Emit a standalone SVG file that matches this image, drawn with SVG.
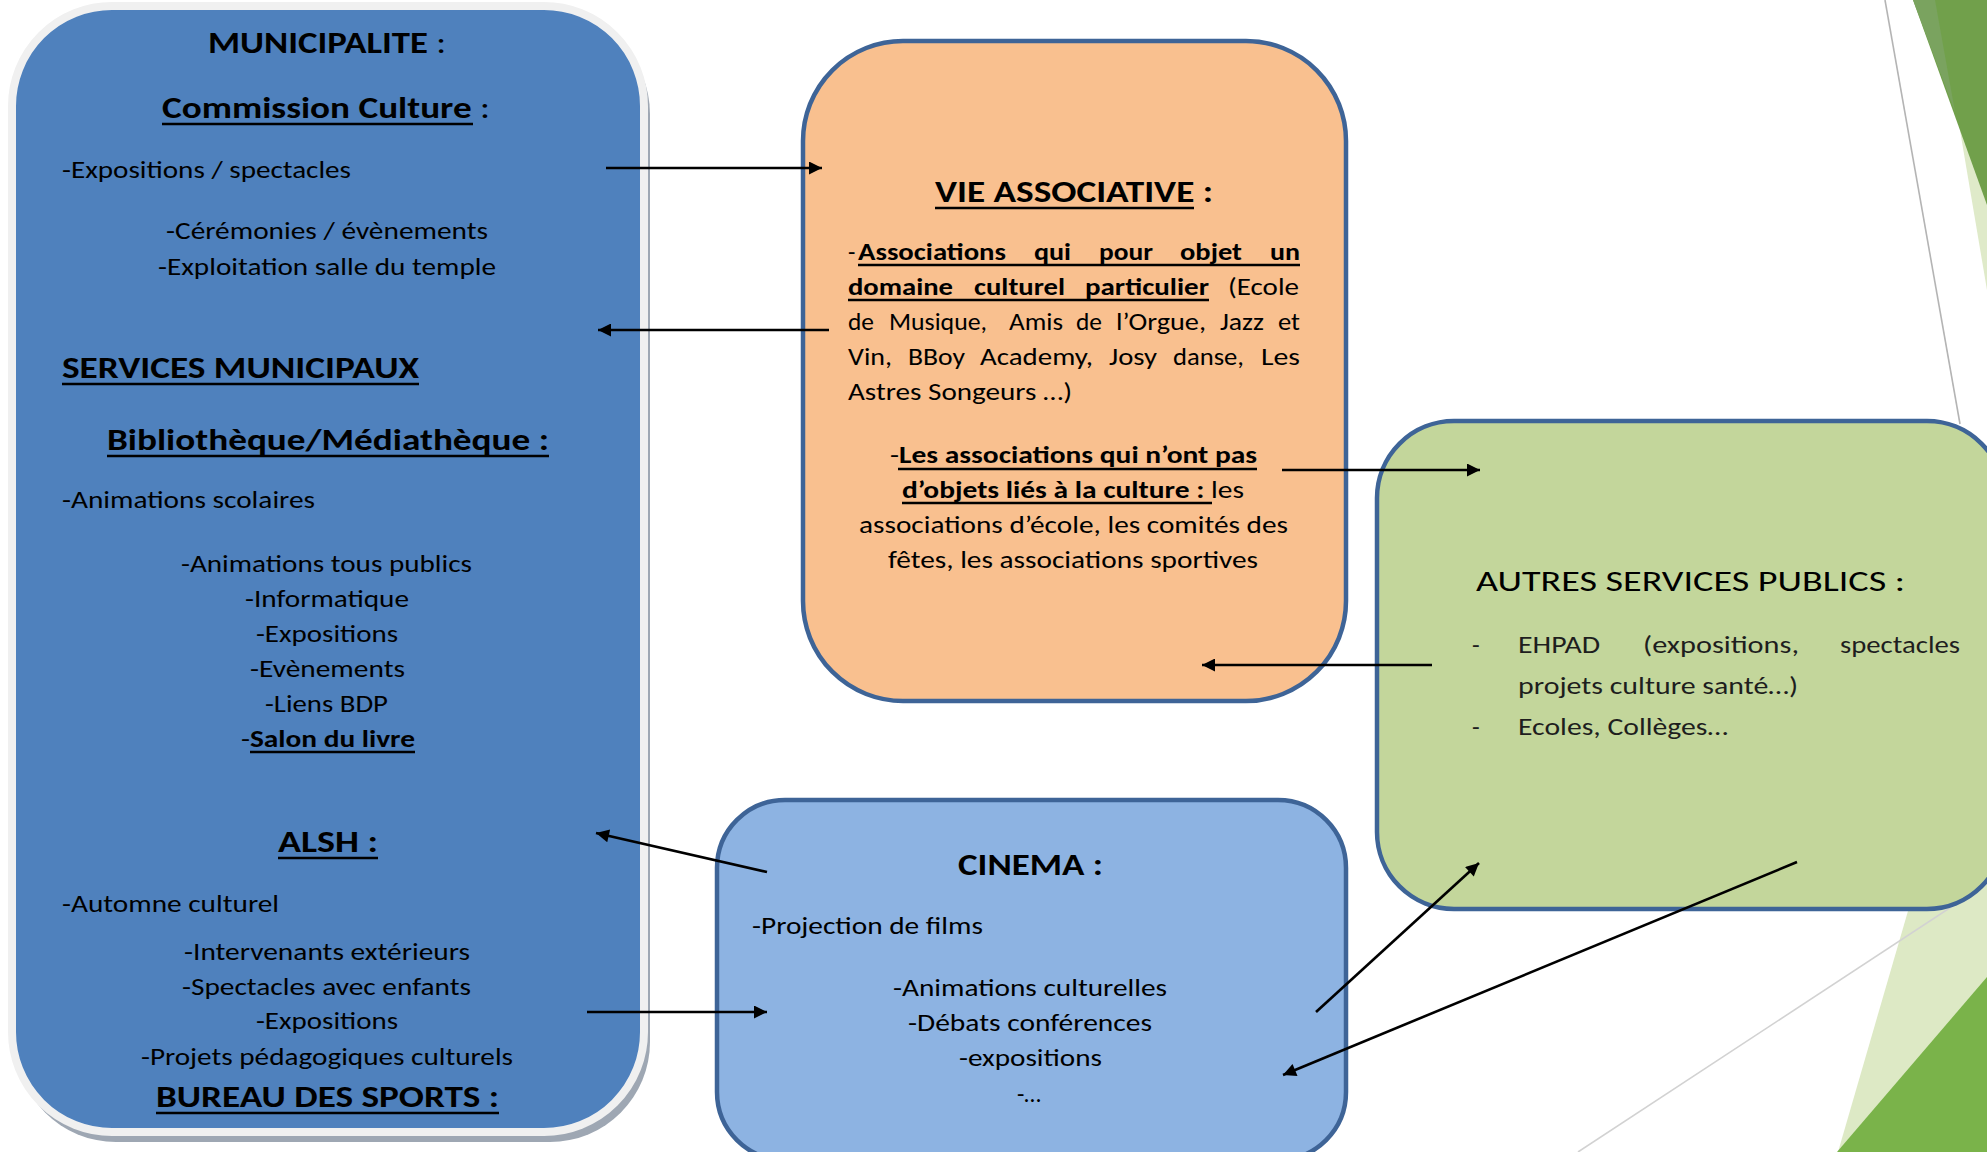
<svg xmlns="http://www.w3.org/2000/svg" width="1987" height="1152" viewBox="0 0 1987 1152">
<defs>
<marker id="ah" viewBox="0 0 10 10" refX="10" refY="5" markerWidth="17" markerHeight="13" markerUnits="userSpaceOnUse" orient="auto">
<path d="M0,0 L10,5 L0,10 z" fill="#000"/>
</marker>
<style>
text{font-family:Carlito,Lato,"Open Sans",sans-serif;fill:#000}
.r{font-size:24px}
.b{font-size:30px;font-weight:bold}
.bs{font-weight:bold}
.ul{stroke:#000;stroke-width:2.4}
.g{font-size:25px;fill:#1e1e1e}
.con{stroke:#000;stroke-width:2.6;fill:none;marker-end:url(#ah)}
.box{stroke:#3e6497;stroke-width:4.5}
</style>
</defs>
<rect width="1987" height="1152" fill="#fff"/>
<g id="decor">
<polygon points="1938,0 1987,0 1987,290" fill="#dfeac9"/>
<polygon points="1913,0 1987,0 1987,205" fill="#71a04b"/>
<polygon points="1913,0 1935,0 1955,112" fill="#7aa35f"/>
<polygon points="1917,880 1987,880 1987,1152 1838,1152" fill="#dde9c5"/>
<polygon points="1837,1152 1987,977 1987,1152" fill="#7ab34a"/>
<line x1="1885" y1="0" x2="1960" y2="424" stroke="#b4b4b4" stroke-width="1.6"/>
<line x1="1578" y1="1152" x2="2000" y2="875" stroke="#d2d2d2" stroke-width="1.6"/>
</g>
<g id="municipalite">
<rect x="16" y="14" width="634" height="1128" rx="100" fill="#9ea7b3"/>
<rect x="12" y="6" width="632" height="1126" rx="100" fill="#4f81bd" stroke="#f0f0f0" stroke-width="8"/>
<text x="208" y="53" class="b" textLength="238" lengthAdjust="spacingAndGlyphs">MUNICIPALITE <tspan font-weight="normal">:</tspan></text>
<text x="162" y="118" class="b" textLength="328" lengthAdjust="spacingAndGlyphs">Commission Culture <tspan font-weight="normal">:</tspan></text>
<line class="ul" x1="162" y1="124" x2="473" y2="124"/>
<text x="62" y="178" class="r" textLength="289" lengthAdjust="spacingAndGlyphs">-Expositions / spectacles</text>
<text x="166" y="239" class="r" textLength="322" lengthAdjust="spacingAndGlyphs">-Cérémonies / évènements</text>
<text x="158" y="275" class="r" textLength="338" lengthAdjust="spacingAndGlyphs">-Exploitation salle du temple</text>
<text x="62" y="378" class="b" textLength="357" lengthAdjust="spacingAndGlyphs">SERVICES MUNICIPAUX</text>
<line class="ul" x1="62" y1="384" x2="419" y2="384"/>
<text x="107" y="450" class="b" textLength="442" lengthAdjust="spacingAndGlyphs">Bibliothèque/Médiathèque :</text>
<line class="ul" x1="107" y1="456" x2="549" y2="456"/>
<text x="62" y="508" class="r" textLength="253" lengthAdjust="spacingAndGlyphs">-Animations scolaires</text>
<text x="181" y="572" class="r" textLength="291" lengthAdjust="spacingAndGlyphs">-Animations tous publics</text>
<text x="245" y="607" class="r" textLength="164" lengthAdjust="spacingAndGlyphs">-Informatique</text>
<text x="256" y="642" class="r" textLength="142" lengthAdjust="spacingAndGlyphs">-Expositions</text>
<text x="250" y="677" class="r" textLength="155" lengthAdjust="spacingAndGlyphs">-Evènements</text>
<text x="265" y="712" class="r" textLength="123" lengthAdjust="spacingAndGlyphs">-Liens BDP</text>
<text x="241" y="747" class="r" textLength="174" lengthAdjust="spacingAndGlyphs">-<tspan class="bs">Salon du livre</tspan></text>
<line class="ul" x1="250" y1="752" x2="415" y2="752"/>
<text x="278" y="852" class="b" textLength="100" lengthAdjust="spacingAndGlyphs">ALSH :</text>
<line class="ul" x1="278" y1="858" x2="378" y2="858"/>
<text x="62" y="912" class="r" textLength="217" lengthAdjust="spacingAndGlyphs">-Automne culturel</text>
<text x="184" y="960" class="r" textLength="286" lengthAdjust="spacingAndGlyphs">-Intervenants extérieurs</text>
<text x="182" y="995" class="r" textLength="289" lengthAdjust="spacingAndGlyphs">-Spectacles avec enfants</text>
<text x="256" y="1029" class="r" textLength="142" lengthAdjust="spacingAndGlyphs">-Expositions</text>
<text x="141" y="1065" class="r" textLength="372" lengthAdjust="spacingAndGlyphs">-Projets pédagogiques culturels</text>
<text x="156" y="1107" class="b" textLength="343" lengthAdjust="spacingAndGlyphs">BUREAU DES SPORTS :</text>
<line class="ul" x1="156" y1="1113" x2="499" y2="1113"/>
</g>
<g id="vie-associative">
<rect x="803" y="41" width="543" height="660" rx="100" fill="#f9c08f" class="box"/>
<text x="935" y="202" class="b" textLength="278" lengthAdjust="spacingAndGlyphs">VIE ASSOCIATIVE :</text>
<line class="ul" x1="935" y1="208" x2="1194" y2="208"/>
<text y="260" class="r"><tspan x="848">-</tspan><tspan x="858" class="bs" textLength="148" lengthAdjust="spacingAndGlyphs">Associations</tspan> <tspan x="1034" class="bs" textLength="37" lengthAdjust="spacingAndGlyphs">qui</tspan> <tspan x="1099" class="bs" textLength="54" lengthAdjust="spacingAndGlyphs">pour</tspan> <tspan x="1180" class="bs" textLength="62" lengthAdjust="spacingAndGlyphs">objet</tspan> <tspan x="1270" class="bs" textLength="30" lengthAdjust="spacingAndGlyphs">un</tspan></text>
<line class="ul" x1="858" y1="265" x2="1300" y2="265"/>
<text y="295" class="r"><tspan x="848" class="bs" textLength="105" lengthAdjust="spacingAndGlyphs">domaine</tspan> <tspan x="974" class="bs" textLength="91" lengthAdjust="spacingAndGlyphs">culturel</tspan> <tspan x="1085" class="bs" textLength="124" lengthAdjust="spacingAndGlyphs">particulier</tspan> <tspan x="1228" textLength="71" lengthAdjust="spacingAndGlyphs">(Ecole</tspan></text>
<line class="ul" x1="848" y1="300" x2="1209" y2="300"/>
<text y="330" class="r"><tspan x="848" textLength="26" lengthAdjust="spacingAndGlyphs">de</tspan> <tspan x="889" textLength="98" lengthAdjust="spacingAndGlyphs">Musique,</tspan> <tspan x="1009" textLength="54" lengthAdjust="spacingAndGlyphs">Amis</tspan> <tspan x="1076" textLength="26" lengthAdjust="spacingAndGlyphs">de</tspan> <tspan x="1116" textLength="90" lengthAdjust="spacingAndGlyphs">l’Orgue,</tspan> <tspan x="1220" textLength="44" lengthAdjust="spacingAndGlyphs">Jazz</tspan> <tspan x="1278" textLength="22" lengthAdjust="spacingAndGlyphs">et</tspan></text>
<text y="365" class="r"><tspan x="848" textLength="44" lengthAdjust="spacingAndGlyphs">Vin,</tspan> <tspan x="908" textLength="57" lengthAdjust="spacingAndGlyphs">BBoy</tspan> <tspan x="980" textLength="113" lengthAdjust="spacingAndGlyphs">Academy,</tspan> <tspan x="1109" textLength="48" lengthAdjust="spacingAndGlyphs">Josy</tspan> <tspan x="1173" textLength="71" lengthAdjust="spacingAndGlyphs">danse,</tspan> <tspan x="1261" textLength="39" lengthAdjust="spacingAndGlyphs">Les</tspan></text>
<text x="848" y="400" class="r" textLength="224" lengthAdjust="spacingAndGlyphs">Astres Songeurs …)</text>
<text x="890" y="463" class="r" textLength="367" lengthAdjust="spacingAndGlyphs">-<tspan class="bs">Les associations qui n’ont pas</tspan></text>
<line class="ul" x1="898" y1="469" x2="1257" y2="469"/>
<text x="902" y="498" class="r" textLength="342" lengthAdjust="spacingAndGlyphs"><tspan class="bs">d’objets liés à la culture : </tspan>les</text>
<line class="ul" x1="902" y1="503" x2="1212" y2="503"/>
<text x="859" y="533" class="r" textLength="429" lengthAdjust="spacingAndGlyphs">associations d’école, les comités des</text>
<text x="888" y="568" class="r" textLength="370" lengthAdjust="spacingAndGlyphs">fêtes, les associations sportives</text>
</g>
<g id="autres-services">
<rect x="1377" y="421" width="627" height="488" rx="77" fill="#c3d69b" class="box"/>
<text x="1476" y="591" font-size="28" fill="#1a1a1a" textLength="429" lengthAdjust="spacingAndGlyphs">AUTRES SERVICES PUBLICS :</text>
<text y="653" class="g"><tspan x="1472">-</tspan> <tspan x="1518" textLength="82" lengthAdjust="spacingAndGlyphs">EHPAD</tspan> <tspan x="1643" textLength="156" lengthAdjust="spacingAndGlyphs">(expositions,</tspan> <tspan x="1840" textLength="120" lengthAdjust="spacingAndGlyphs">spectacles</tspan></text>
<text x="1518" y="694" class="g" textLength="280" lengthAdjust="spacingAndGlyphs">projets culture santé…)</text>
<text y="735" class="g"><tspan x="1472">-</tspan> <tspan x="1518" textLength="210" lengthAdjust="spacingAndGlyphs">Ecoles, Collèges…</tspan></text>
</g>
<g id="cinema">
<rect x="717" y="800" width="629" height="360" rx="68" fill="#8db3e2" class="box"/>
<text x="958" y="875" class="b" textLength="145" lengthAdjust="spacingAndGlyphs">CINEMA :</text>
<text x="752" y="934" class="r" textLength="231" lengthAdjust="spacingAndGlyphs">-Projection de films</text>
<text x="893" y="996" class="r" textLength="274" lengthAdjust="spacingAndGlyphs">-Animations culturelles</text>
<text x="908" y="1031" class="r" textLength="244" lengthAdjust="spacingAndGlyphs">-Débats conférences</text>
<text x="959" y="1066" class="r" textLength="143" lengthAdjust="spacingAndGlyphs">-expositions</text>
<text x="1017" y="1102" class="r">-…</text>
</g>
<g id="connectors">
<line class="con" x1="606" y1="168" x2="822" y2="168"/>
<line class="con" x1="829" y1="330" x2="598" y2="330"/>
<line class="con" x1="1282" y1="470" x2="1480" y2="470"/>
<line class="con" x1="1432" y1="665" x2="1202" y2="665"/>
<line class="con" x1="767" y1="872" x2="596" y2="833"/>
<line class="con" x1="587" y1="1012" x2="767" y2="1012"/>
<line class="con" x1="1316" y1="1012" x2="1479" y2="863"/>
<line class="con" x1="1797" y1="862" x2="1283" y2="1075"/>
</g>
</svg>
